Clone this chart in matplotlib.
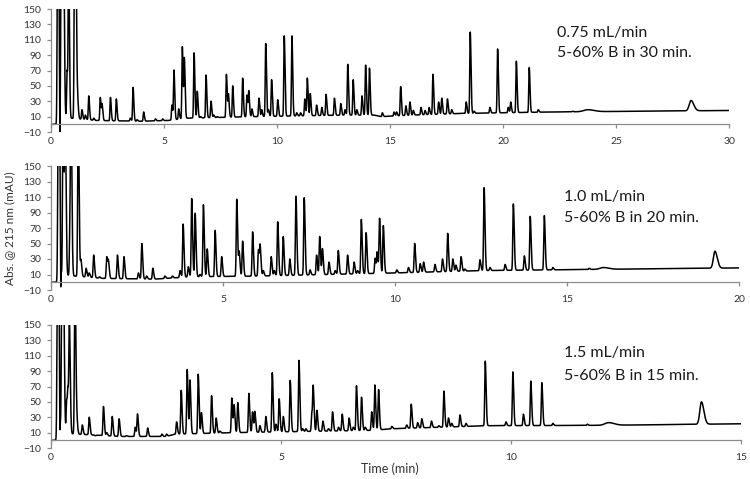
import numpy as np
import matplotlib.pyplot as plt

# peak tables: retention time (min), apex height (mAU)
t1 = [0.29, 0.33, 0.39, 0.45, 0.50, 0.56, 0.71, 0.78, 1.04, 1.10, 1.18, 1.37, 1.52, 1.67, 1.89,
      2.18, 2.26, 2.63, 2.89, 3.51, 3.63, 3.81, 4.10, 4.62, 4.94, 5.35, 5.44, 5.65, 5.81, 5.90,
      6.09, 6.33, 6.47, 6.61, 6.86, 7.08, 7.20, 7.35, 7.76, 7.85, 8.04, 8.48, 8.67, 8.75, 8.89,
      9.20, 9.32, 9.50, 9.62, 9.76, 10.03, 10.32, 10.66, 10.87, 11.04, 11.23, 11.34, 11.47,
      11.75, 11.98, 12.17, 12.54, 12.82, 13.01, 13.13, 13.37, 13.53, 13.76, 13.92, 14.09,
      14.66, 15.18, 15.29, 15.47, 15.70, 15.88, 16.03, 16.37, 16.55, 16.73, 16.90, 17.15,
      17.29, 17.54, 17.73, 18.37, 18.55, 18.72, 19.42, 19.76, 20.23, 20.34, 20.59, 21.16,
      21.56, 23.07]
h1 = [220, 200, -60, 220, 170, 220, 70, 220, 220, 220, 29, 19, 12, 37, 8,
      35, 25, 35, 33, 8, 48, 6, 16, 7, 7, 25, 70, 20, 101, 84,
      8, 93, 43, 10, 64, 30, 12, 10, 65, 38, 50, 60, 38, 42, 20,
      34, 19, 105, 19, 58, 32, 115, 115, 15, 15, 33, 60, 40,
      25, 22, 39, 34, 27, 19, 78, 58, 19, 37, 77, 73,
      15, 16, 16, 49, 24, 29, 18, 22, 18, 22, 65, 29,
      34, 33, 19, 29, 120, 17, 22, 98, 22, 29, 82, 74,
      19, 17]
b1_t = [23.75, 28.32]
b1_h = [19, 31]
b1_w = [0.18, 0.08]
base1_t = [0, 0.28, 0.5, 2.0, 4.0, 5.2, 6.0, 9.0, 13.0, 14.3, 14.6, 16.0, 18.0, 20.0, 22.0, 30.0]
base1_y = [0, 0, 9, 5, 4, 5, 8, 10, 12, 12, 10, 12, 14, 15, 16, 18]

t2 = [0.21, 0.24, 0.28, 0.35, 0.41, 0.55, 0.58, 0.79, 0.87, 1.02, 1.11, 1.24, 1.41, 1.62, 1.67,
      1.93, 2.12, 2.54, 2.64, 2.78, 2.96, 3.31, 3.53, 3.75, 3.84, 3.99, 4.09, 4.19, 4.33,
      4.43, 4.54, 4.77, 4.96, 5.40, 5.47, 5.57, 5.86, 6.03, 6.08, 6.17, 6.40, 6.49, 6.59,
      6.75, 6.94, 7.12, 7.36, 7.53, 7.72, 7.81, 7.89, 8.08, 8.26, 8.35, 8.62, 8.81, 8.91,
      9.02, 9.16, 9.42, 9.48, 9.55, 9.66, 10.05, 10.39, 10.57, 10.73, 10.83, 11.16, 11.38,
      11.53, 11.68, 11.77, 11.92, 12.03, 12.47, 12.59, 12.76, 13.20, 13.44, 13.76, 13.93,
      14.34, 14.59, 15.64]
h2 = [220, 200, -60, 220, 220, 64, 220, 220, 28, 18, 12, 35, 7, 33, 25,
      35, 33, 12, 50, 8, 18, 8, 8, 15, 75, 20, 108, 89, 10,
      100, 43, 67, 33, 107, 38, 53, 65, 42, 44, 15, 33, 15, 78,
      59, 30, 111, 109, 16, 35, 59, 43, 26, 15, 41, 35, 26, 15,
      81, 64, 31, 38, 82, 73, 16, 19, 50, 24, 26, 23, 30,
      63, 30, 22, 33, 17, 29, 122, 19, 23, 101, 34, 85,
      86, 19, 18]
b2_t = [16.06, 19.30]
b2_h = [19, 40]
b2_w = [0.1, 0.045]
base2_t = [0, 0.2, 0.4, 1.5, 3.0, 3.7, 4.0, 6.0, 8.0, 10.0, 12.5, 14.5, 20.0]
base2_y = [0, 0, 9, 5, 4, 6, 7, 8, 10, 12, 15, 16, 18.5]

t3 = [0.14, 0.165, 0.19, 0.235, 0.27, 0.34, 0.37, 0.40, 0.52, 0.56, 0.68, 0.83, 0.96, 1.14, 1.21,
      1.33, 1.48, 1.64, 1.83, 1.88, 2.10, 2.41, 2.51, 2.73, 2.83, 2.96, 3.02, 3.20, 3.27,
      3.49, 3.59, 3.67, 3.93, 3.98, 4.06, 4.30, 4.38, 4.43, 4.54, 4.67, 4.81, 4.89, 4.96,
      5.05, 5.20, 5.39, 5.47, 5.54, 5.67, 5.70, 5.78, 5.91, 6.03, 6.12, 6.25, 6.33, 6.48,
      6.57, 6.64, 6.75, 6.83, 6.97, 7.04, 7.12, 7.41, 7.73, 7.83, 7.97, 8.06, 8.27, 8.43,
      8.54, 8.64, 8.71, 8.89, 9.02, 9.35, 9.44, 9.54, 9.89, 10.04, 10.27, 10.43, 10.67,
      10.91, 11.66]
h3 = [220, 200, -60, 220, 220, 52, 55, 145, 220, 26, 20, 30, 6, 44, 10,
      31, 28, 6, 17, 34, 16, 8, 8, 24, 65, 92, 78, 86, 36,
      58, 29, 12, 55, 45, 49, 61, 37, 37, 19, 31, 88, 21, 54,
      31, 78, 104, 15, 15, 35, 65, 39, 25, 15, 37, 17, 34, 29,
      17, 71, 56, 17, 37, 72, 66, 18, 20, 47, 23, 28, 25, 19,
      64, 29, 22, 33, 22, 19, 103, 19, 24, 89, 34, 77, 75,
      22, 21]
b3_t = [12.12, 14.14]
b3_h = [23, 50]
b3_w = [0.08, 0.035]
base3_t = [0, 0.12, 0.3, 1.5, 2.5, 2.7, 4.0, 7.0, 7.4, 9.5, 12.0, 15.0]
base3_y = [0, 0, 9, 5, 5, 8, 10, 13, 15, 19, 19.5, 21.5]

labels = [("0.75 mL/min", "5-60% B in 30 min."),
          ("1.0 mL/min", "5-60% B in 20 min."),
          ("1.5 mL/min", "5-60% B in 15 min.")]
xmax = [30, 20, 15]
sigmas = [0.02, 0.015, 0.011]


def trace(x, tp, hp, bt, bh, bw, kt, ky, sig):
    base = np.interp(x, kt, ky)
    y = base.copy()
    for t0, h in zip(tp, hp):
        s = np.where(x < t0, sig, sig * 1.7)
        if h < 0:
            s = sig * 0.6
        y += (h - np.interp(t0, kt, ky)) * np.exp(-0.5 * ((x - t0) / s) ** 2)
    for t0, h, w in zip(bt, bh, bw):
        s = np.where(x < t0, w, w * 1.5)
        y += (h - np.interp(t0, kt, ky)) * np.exp(-0.5 * ((x - t0) / s) ** 2)
    return y


plt.rcParams['font.family'] = ['Lato', 'DejaVu Sans']
fig = plt.figure(figsize=(7.5, 4.79), dpi=100)

# axes boxes in pixels: left, top(150), right, bottom(-10)
boxes = [(51, 9, 729, 132), (51, 166, 739, 290), (51, 325, 741, 448)]
tables = [(t1, h1, b1_t, b1_h, b1_w, base1_t, base1_y),
          (t2, h2, b2_t, b2_h, b2_w, base2_t, base2_y),
          (t3, h3, b3_t, b3_h, b3_w, base3_t, base3_y)]
text_pos = [(557, 33, 53), (564, 197, 218), (564, 353, 376)]

grey = '#8c8c8c'
for i in range(3):
    l, top, r, bot = boxes[i]
    ax = fig.add_axes([l / 750, 1 - bot / 479, (r - l) / 750, (bot - top) / 479])
    x = np.linspace(0, xmax[i], 15000)
    y = trace(x, *tables[i], sigmas[i])
    ax.plot(x, y, color='black', lw=1.1)
    ax.set_xlim(0, xmax[i])
    ax.set_ylim(-10, 150)
    ax.set_yticks(np.arange(-10, 151, 20))
    ax.set_xticks(np.arange(0, xmax[i] + 1, 5))
    ax.spines['top'].set_visible(False)
    ax.spines['right'].set_visible(False)
    ax.spines['bottom'].set_position(('data', 0))
    for sp in ['left', 'bottom']:
        ax.spines[sp].set_color(grey)
        ax.spines[sp].set_linewidth(0.9)
    ax.tick_params(axis='both', colors=grey, length=3, width=0.9, labelsize=7.5, labelcolor='#333333')
    ax.tick_params(axis='x', pad=6)
    ax.tick_params(axis='y', pad=4)
    tx, ty1, ty2 = text_pos[i]
    fig.text(tx / 750, 1 - ty1 / 479, labels[i][0], fontsize=11.5, va='center', ha='left', color='#1a1a1a')
    fig.text(tx / 750, 1 - ty2 / 479, labels[i][1], fontsize=11.5, va='center', ha='left', color='#1a1a1a')

fig.text(10 / 750, 1 - 228 / 479, "Abs. @ 215 nm (mAU)", rotation=90, fontsize=8.5,
         va='center', ha='center', color='#333333')
fig.text(390 / 750, 1 - 469 / 479, "Time (min)", fontsize=9, va='center', ha='center', color='#333333')

fig.savefig('out.png', dpi=100)
